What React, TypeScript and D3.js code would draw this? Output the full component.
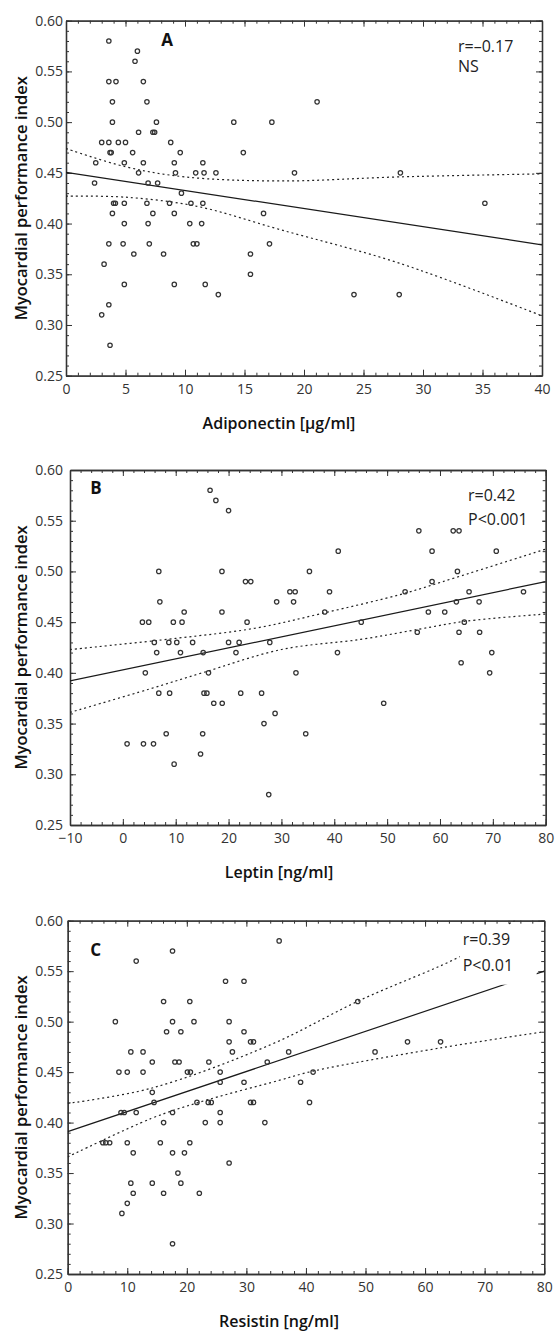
import React, { useEffect, useRef } from 'react';
import * as d3 from 'd3';

// Myocardial performance index vs adiponectin [µg/ml]
const adiponectin: [number, number][] = [
  [3.6, 0.58], [6.0, 0.57], [5.8, 0.56], [3.6, 0.54], [4.2, 0.54], [6.5, 0.54],
  [3.9, 0.52], [6.8, 0.52], [21.1, 0.52], [3.9, 0.5], [7.6, 0.5], [14.1, 0.5], [17.3, 0.5],
  [6.1, 0.49], [7.3, 0.49], [7.45, 0.49], [3.0, 0.48], [3.6, 0.48], [4.4, 0.48], [5.0, 0.48], [8.8, 0.48],
  [3.7, 0.47], [3.8, 0.47], [5.6, 0.47], [9.6, 0.47], [14.9, 0.47],
  [2.5, 0.46], [4.9, 0.46], [6.5, 0.46], [9.1, 0.46], [11.5, 0.46],
  [6.1, 0.45], [9.2, 0.45], [10.9, 0.45], [11.6, 0.45], [12.6, 0.45], [19.2, 0.45], [28.1, 0.45],
  [2.4, 0.44], [6.9, 0.44], [7.7, 0.44], [9.7, 0.43],
  [4.0, 0.42], [4.15, 0.42], [4.9, 0.42], [6.8, 0.42], [8.7, 0.42], [10.5, 0.42], [11.5, 0.42], [35.2, 0.42],
  [3.9, 0.41], [7.3, 0.41], [9.1, 0.41], [16.6, 0.41],
  [4.9, 0.4], [6.9, 0.4], [10.4, 0.4], [11.4, 0.4],
  [3.6, 0.38], [4.8, 0.38], [7.0, 0.38], [10.7, 0.38], [11.0, 0.38], [17.1, 0.38],
  [5.7, 0.37], [8.2, 0.37], [15.5, 0.37], [3.2, 0.36], [15.5, 0.35],
  [4.9, 0.34], [9.1, 0.34], [11.7, 0.34], [12.8, 0.33], [24.2, 0.33], [28.0, 0.33],
  [3.6, 0.32], [3.0, 0.31], [3.7, 0.28],
];
const fitA: [number, number][] = [[0, 0.4505], [40, 0.379]];
const upperA: [number, number][] = [[0, 0.474], [5, 0.456], [10, 0.446], [18, 0.442], [28, 0.446], [40, 0.449]];
const lowerA: [number, number][] = [[0, 0.427], [5, 0.426], [11, 0.417], [18, 0.394], [28, 0.361], [40, 0.309]];

// Myocardial performance index vs leptin [ng/ml]
const leptin: [number, number][] = [
  [0.8, 0.33], [3.9, 0.33], [5.8, 0.33], [3.7, 0.45], [4.9, 0.45], [4.25, 0.4], [5.95, 0.43], [6.4, 0.42],
  [6.8, 0.5], [7.0, 0.47], [6.8, 0.38], [8.2, 0.34], [8.7, 0.43], [8.85, 0.38], [9.55, 0.45], [9.7, 0.31],
  [10.2, 0.43], [10.9, 0.42], [11.2, 0.45], [11.6, 0.46], [13.2, 0.43], [14.7, 0.32], [15.1, 0.34],
  [15.2, 0.42], [15.35, 0.38], [15.9, 0.38], [16.2, 0.4], [16.5, 0.58], [17.2, 0.37], [17.6, 0.57],
  [18.75, 0.5], [18.75, 0.46], [18.8, 0.37], [20.0, 0.56], [20.0, 0.43], [22.0, 0.43], [21.4, 0.42],
  [22.3, 0.38], [23.2, 0.49], [24.2, 0.49], [23.5, 0.45], [26.25, 0.38], [26.7, 0.35], [27.8, 0.43],
  [28.8, 0.36], [27.6, 0.28], [29.1, 0.47], [31.6, 0.48], [32.6, 0.48], [32.3, 0.47], [32.75, 0.4],
  [34.6, 0.34], [35.3, 0.5], [38.2, 0.46], [39.1, 0.48], [40.6, 0.42], [40.75, 0.52], [45.1, 0.45],
  [49.35, 0.37], [53.4, 0.48], [55.7, 0.44], [56.0, 0.54], [57.8, 0.46], [58.5, 0.52], [58.5, 0.49],
  [60.9, 0.46], [62.5, 0.54], [63.6, 0.54], [63.3, 0.5], [63.1, 0.47], [63.6, 0.44], [64.0, 0.41],
  [64.6, 0.45], [65.5, 0.48], [67.4, 0.47], [67.5, 0.44], [69.4, 0.4], [69.8, 0.42], [70.65, 0.52], [75.8, 0.48],
];
const fitB: [number, number][] = [[-10, 0.392], [80, 0.49]];
const upperB: [number, number][] = [[-10, 0.423], [10, 0.434], [25, 0.444], [38, 0.459], [53, 0.478], [63, 0.494], [80, 0.522]];
const lowerB: [number, number][] = [[-10, 0.361], [5, 0.384], [15, 0.4], [30, 0.423], [45, 0.433], [56, 0.443], [65, 0.451], [80, 0.458]];

// Myocardial performance index vs resistin [ng/ml]
const resistin: [number, number][] = [
  [17.6, 0.57], [11.5, 0.56], [26.5, 0.54], [29.6, 0.54], [16.1, 0.52], [20.5, 0.52], [8.0, 0.5], [17.6, 0.5],
  [21.2, 0.5], [27.1, 0.5], [16.6, 0.49], [19.0, 0.49], [29.6, 0.49], [27.1, 0.48], [30.7, 0.48], [31.2, 0.48],
  [10.6, 0.47], [12.65, 0.47], [27.65, 0.47], [14.2, 0.46], [18.0, 0.46], [18.7, 0.46], [23.7, 0.46], [33.5, 0.46],
  [8.6, 0.45], [10.0, 0.45], [12.65, 0.45], [20.1, 0.45], [20.6, 0.45], [25.6, 0.45], [25.6, 0.44], [29.6, 0.44],
  [14.2, 0.43], [14.5, 0.42], [21.7, 0.42], [23.6, 0.42], [24.1, 0.42], [30.7, 0.42], [31.2, 0.42],
  [8.95, 0.41], [9.5, 0.41], [11.5, 0.41], [17.6, 0.41], [25.6, 0.41], [16.1, 0.4], [23.1, 0.4], [25.6, 0.4], [33.1, 0.4],
  [5.9, 0.38], [6.4, 0.38], [7.05, 0.38], [10.0, 0.38], [15.55, 0.38], [20.5, 0.38], [11.0, 0.37], [17.6, 0.37],
  [19.6, 0.37], [27.1, 0.36], [18.5, 0.35], [10.6, 0.34], [14.2, 0.34], [19.0, 0.34], [11.0, 0.33], [16.1, 0.33],
  [22.1, 0.33], [10.0, 0.32], [9.1, 0.31], [17.6, 0.28], [35.5, 0.58],
  [48.7, 0.52], [37.1, 0.47], [51.6, 0.47], [57.05, 0.48], [62.6, 0.48], [41.2, 0.45], [39.1, 0.44], [40.6, 0.42],
];
const fitC: [number, number][] = [[0, 0.391], [80, 0.55]];
const upperC: [number, number][] = [[0, 0.419], [14, 0.434], [34, 0.477], [49, 0.521], [67, 0.568], [75, 0.6], [80, 0.613]];
const lowerC: [number, number][] = [[0, 0.366], [14, 0.404], [22, 0.42], [35.6, 0.442], [41.2, 0.451], [62.6, 0.474], [80, 0.49]];

const yTicks = [0.25, 0.3, 0.35, 0.4, 0.45, 0.5, 0.55, 0.6];
const xTicksA = [0, 5, 10, 15, 20, 25, 30, 35, 40];
const xTicksB = [-10, 0, 10, 20, 30, 40, 50, 60, 70, 80];
const xTicksC = [0, 10, 20, 30, 40, 50, 60, 70, 80];

const yTitle = 'Myocardial performance index';

const panels = [
  {
    letter: 'A', points: adiponectin, fit: fitA, upper: upperA, lower: lowerA,
    xDomain: [0, 40], xTicks: xTicksA, xMinor: 1, xTitle: 'Adiponectin [µg/ml]',
    stats: ['r=\u20130.17', 'NS'],
    box: { left: 66, top: 20.7, right: 542, bottom: 375.7 },
    letterPos: [101, 25], statsPos: [392, 31, 20],
  },
  {
    letter: 'B', points: leptin, fit: fitB, upper: upperB, lower: lowerB,
    xDomain: [-10, 80], xTicks: xTicksB, xMinor: 2, xTitle: 'Leptin [ng/ml]',
    stats: ['r=0.42', 'P<0.001'],
    box: { left: 70, top: 470, right: 545.7, bottom: 825 },
    letterPos: [26, 24], statsPos: [398, 31, 24],
  },
  {
    letter: 'C', points: resistin, fit: fitC, upper: upperC, lower: lowerC,
    xDomain: [0, 80], xTicks: xTicksC, xMinor: 2, xTitle: 'Resistin [ng/ml]',
    stats: ['r=0.39', 'P<0.01'],
    box: { left: 67.7, top: 920.7, right: 544.2, bottom: 1274 },
    letterPos: [28, 35], statsPos: [395, 24, 26],
  },
];

const FONT = "'Open Sans', 'DejaVu Sans', sans-serif";
const INK = '#333';

const App = () => {
  const ref = useRef<SVGSVGElement>(null);

  useEffect(() => {
    const svg = d3.select(ref.current);
    svg.selectAll('*').remove();

    panels.forEach((p) => {
      const { left, top, right, bottom } = p.box;
      const x = d3.scaleLinear().domain(p.xDomain).range([left, right]);
      const y = d3.scaleLinear().domain([0.25, 0.6]).range([bottom, top]);
      const g = svg.append('g');

      const clipId = 'clip-' + p.letter;
      g.append('clipPath').attr('id', clipId)
        .append('rect').attr('x', left).attr('y', top)
        .attr('width', right - left).attr('height', bottom - top);

      // minor tick positions
      const nx = Math.round((p.xDomain[1] - p.xDomain[0]) / p.xMinor);
      const xMinor = d3.range(nx + 1).map((i) => p.xDomain[0] + i * p.xMinor);
      const yMinor = d3.range(36).map((i) => 0.25 + i * 0.01);

      const styleAxis = (sel) => {
        sel.select('.domain').attr('stroke', INK).attr('stroke-width', 1.3);
        sel.selectAll('.tick line').attr('stroke', INK).attr('stroke-width', 1);
        sel.selectAll('text').attr('fill', INK).style('font-family', FONT).style('font-size', '14px');
      };
      const noLabel = () => '';

      // minor ticks on all sides
      g.append('g').attr('transform', `translate(0,${bottom})`)
        .call(d3.axisBottom(x).tickValues(xMinor).tickSizeInner(-3).tickSizeOuter(0).tickFormat(noLabel)).call(styleAxis);
      g.append('g').attr('transform', `translate(0,${top})`)
        .call(d3.axisTop(x).tickValues(xMinor).tickSizeInner(-3).tickSizeOuter(0).tickFormat(noLabel)).call(styleAxis);
      g.append('g').attr('transform', `translate(${left},0)`)
        .call(d3.axisLeft(y).tickValues(yMinor).tickSizeInner(-3).tickSizeOuter(0).tickFormat(noLabel)).call(styleAxis);
      g.append('g').attr('transform', `translate(${right},0)`)
        .call(d3.axisRight(y).tickValues(yMinor).tickSizeInner(-3).tickSizeOuter(0).tickFormat(noLabel)).call(styleAxis);

      // major ticks and labels
      g.append('g').attr('transform', `translate(0,${bottom})`)
        .call(d3.axisBottom(x).tickValues(p.xTicks).tickSizeInner(-6).tickSizeOuter(0).tickPadding(8)
          .tickFormat(d3.format('d'))).call(styleAxis);
      g.append('g').attr('transform', `translate(0,${top})`)
        .call(d3.axisTop(x).tickValues(p.xTicks).tickSizeInner(-6).tickSizeOuter(0).tickFormat(noLabel)).call(styleAxis);
      g.append('g').attr('transform', `translate(${left},0)`)
        .call(d3.axisLeft(y).tickValues(yTicks).tickSizeInner(-6).tickSizeOuter(0).tickPadding(left - 63)
          .tickFormat(d3.format('.2f'))).call(styleAxis);
      g.append('g').attr('transform', `translate(${right},0)`)
        .call(d3.axisRight(y).tickValues(yTicks).tickSizeInner(-6).tickSizeOuter(0).tickFormat(noLabel)).call(styleAxis);

      // regression line and confidence band
      const line = d3.line<[number, number]>().x((d) => x(d[0])).y((d) => y(d[1]));
      const curve = d3.line<[number, number]>().x((d) => x(d[0])).y((d) => y(d[1])).curve(d3.curveCatmullRom);
      const lines = g.append('g').attr('clip-path', `url(#${clipId})`);
      lines.append('path').attr('d', line(p.fit)).attr('fill', 'none').attr('stroke', '#1a1a1a').attr('stroke-width', 1.2);
      [p.upper, p.lower].forEach((band) => {
        lines.append('path').attr('d', curve(band)).attr('fill', 'none').attr('stroke', '#222')
          .attr('stroke-width', 1.2).attr('stroke-dasharray', '2,3');
      });

      // points
      g.append('g').selectAll('circle').data(p.points).join('circle')
        .attr('cx', (d) => x(d[0])).attr('cy', (d) => y(d[1])).attr('r', 2.2)
        .attr('fill', 'none').attr('stroke', '#333').attr('stroke-width', 1.25);

      // stats label on white background
      const [sx, sy, sgap] = p.statsPos;
      g.append('rect').attr('x', left + sx - 3).attr('y', top + sy - 20)
        .attr('width', 77).attr('height', sgap + 34).attr('fill', '#fff');
      p.stats.forEach((s, i) => {
        g.append('text').attr('x', left + sx).attr('y', top + sy + i * sgap).text(s)
          .attr('fill', '#222').style('font-family', FONT).style('font-size', '16px');
      });

      // panel letter
      g.append('text').attr('x', left + p.letterPos[0]).attr('y', top + p.letterPos[1]).text(p.letter)
        .attr('text-anchor', 'middle').attr('fill', '#111')
        .style('font-family', FONT).style('font-size', '17px').style('font-weight', 700);

      // axis titles
      g.append('text').attr('x', 279).attr('y', bottom + 53).text(p.xTitle)
        .attr('text-anchor', 'middle').attr('fill', '#111')
        .style('font-family', FONT).style('font-size', '16px').style('font-weight', 600);
      g.append('text').attr('transform', `translate(21,${(top + bottom) / 2}) rotate(-90)`)
        .attr('dy', '0.35em').text(yTitle)
        .attr('text-anchor', 'middle').attr('fill', '#111')
        .style('font-family', FONT).style('font-size', '16.5px').style('font-weight', 600);
    });
  }, []);

  return (
    <svg ref={ref} width={555} height={1335}
      style={{ position: 'absolute', left: 0, top: 0, background: '#fff' }} />
  );
};

export default App;
